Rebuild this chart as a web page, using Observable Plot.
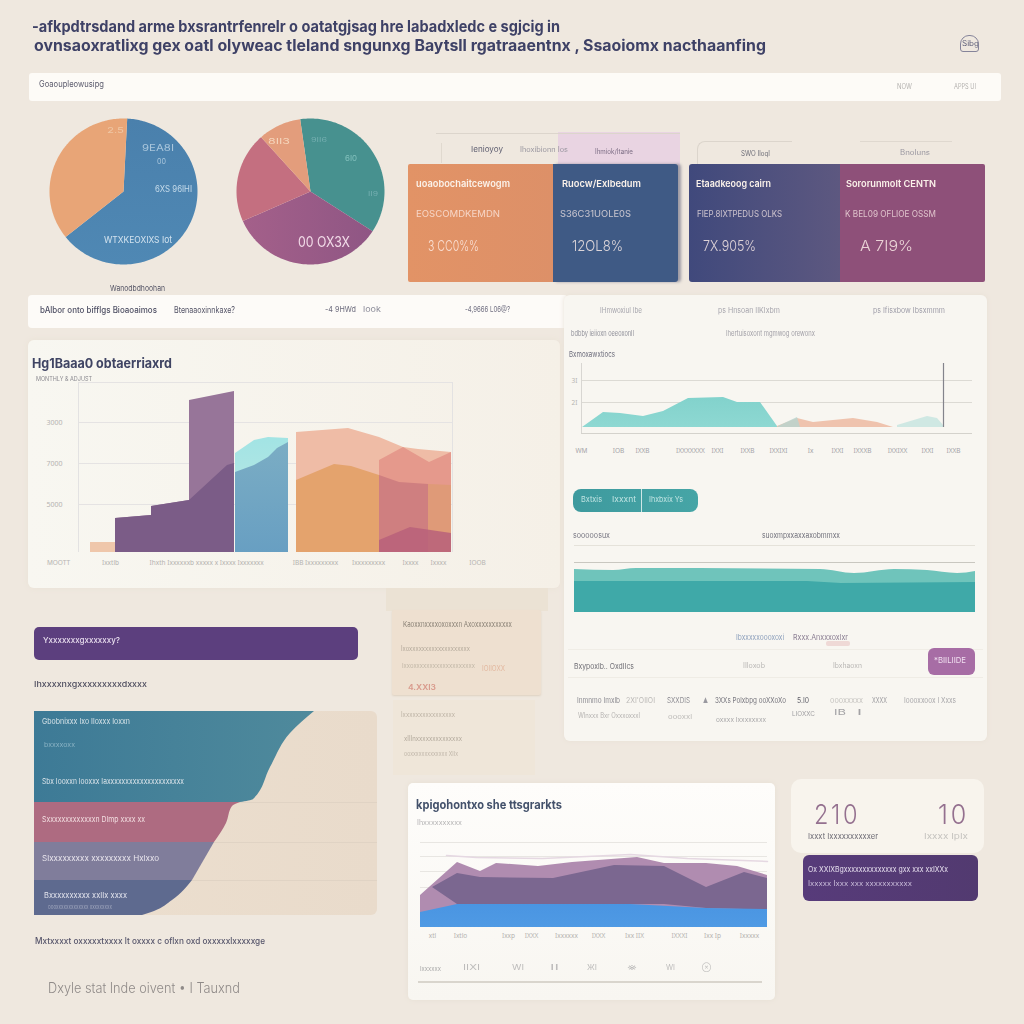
<!DOCTYPE html>
<html><head><meta charset="utf-8">
<script src="https://cdn.jsdelivr.net/npm/d3@7"></script>
<script src="https://cdn.jsdelivr.net/npm/@observablehq/plot@0.6"></script>
<style>
html,body{margin:0;padding:0;background:#efe8df;}
#page{position:relative;width:1024px;height:1024px;overflow:hidden;font-family:Inter,"Liberation Sans",sans-serif;}
.box{position:absolute;box-sizing:border-box;}
.t{position:absolute;white-space:nowrap;transform-origin:0 50%;line-height:1.2;filter:blur(.3px);}
.c{position:absolute;}
.c svg{display:block;overflow:visible;}
</style></head><body><div id="page"></div>
<script>
// ---------- data ----------
const pieA = {names:["Sales share","Other share"], values:[63.5,36.5]};
const pieB = {names:["Segment A","Segment B","Segment C","Segment D"], values:[36.4,34.2,20,9.4]};

const stepX=[37,73,73,111,111,156], stepY=[34,37,46,52,152,161];
const stepDarkX=[37,73,73,111,149,156], stepDarkY=[34,37,46,52,87,89];
const peachX=[12,37], peachY=[10,10];
const cyanX=[157,176,190,210], cyanY=[99,112,115,114];
const blueX=[157,176,190,199,210], blueY=[80,87,95,104,110];
const salmonX=[218,270,301,325,340,373], salmonY=[120,124,115,105,103,100];
const pinkX=[301,325,351,373], pinkY=[92,105,90,100];
const orangeX=[218,256,273,301], orangeY=[72,88,86,77];
const roseX=[301,321,350], roseY=[77,70,68];
const amberX=[350,373], amberY=[68,67];
const wineX=[301,332,373], wineY=[12,25,19];
const barGrid=[48,89,130,170], barGridLabels=["5000","7000","3000","MONTHLY & ADJUST"];
const barTicks=[-20,32,79,137,237,290,332,360,399];
const barTickLabels=["MOOTT","Ixxtlb","Ihxth","Ixxxxxxb xxxxx x Ixxxx Ixxxxxxx","IBB Ixxxxxxxxx","Ixxxxxxxxx","Ixxxx","Ixxxx","IOOB"];

const tealX=[1,22,39,62,82,107,142,156,179,196], tealY=[0,15,14,11,16,29,30,25,25,1];
const sandX=[196,216,232,272,296,312], sandY=[1,9,5,9,5,0];
const paleX=[197,216,219], paleY=[1,10,0];
const mintX=[316,346,356,362], mintY=[2,11,9,2];
const lineGrid=[25,47], lineGridLabels=["2I","3I"];
const lineTicks=[0,37,61,109,136,166,197,229,256,281,316,346,372];
const lineTickLabels=["WM","IOB","IXXB","IXXXXXXX","IXXI","IXXB","IXXIXI","Ix","IXXI","IXXXB","IXXIXX","IXXI","IXXB"];

const waveX=[0,39,62,246,280,320,353,383,401], waveY=[43,42,44,43,39,43,42,39,41];
const seaX=[0,233,267,401], seaY=[31,31,29,30];

const hillX=[0,37,60,76,118,152,217,244,286,317,347], hillY=[32,65,56,64,61,65,70,64,64,61,52];
const ridgeX=[12,37,60,133,194,244,286,324,347], ridgeY=[40,54,50,49,62,61,40,55,49], ridgeLow=[40,23,23,23,23,23,19,18,18];
const skyX=[0,37,210,286,347], skyY=[15,23,23,19,18];
const ceilX=[26,56,122,210,267,347], ceilY=[72,70,69,73,69,66];
const hillGrid=[40,56,71,85], hillTicks=[12,40,88,111,146,178,214,259,292,329];
const hillTickLabels=["xtl","Ixtlo","Ixxp","IXXX","Ixxxxxx","IXXX","Ixx IIX","IXXXI","Ixx Ip","Ixxxxx"];

const funnelTealY=[0,22,56,88,91], funnelTealX=[280,256,236,219,206];
const funnelRoseY=[91,95,112,131], funnelRoseX=[206,198,192,180];
const funnelSlateY=[131,169], funnelSlateX=[180,158];
const funnelDarkY=[169,189,200,204], funnelDarkX=[158,138,120,108];
const funnelSplits=[91,131,169];

const titleLines=["-afkpdtrsdand arme bxsrantrfenrelr o oatatgjsag hre labadxledc e sgjcig in","ovnsaoxratlixg gex oatl olyweac tleland sngunxg  Baytsll rgatraaentnx , Ssaoiomx nacthaanfing"];
const kpiNames=["uoaobochaitcewogm","Ruocw/Exlbedum","Etaadkeoog cairn","Sororunmolt CENTN"];
const kpiSubs=["EOSCOMDKEMDN","S36C31UOLE0S","FIEP.8IXTPEDUS OLKS","K BEL09 OFLIOE OSSM"];
const kpiValues=["3 CC0%%","12OL8%","7X.905%","A 7I9%"];

// ---------- helpers ----------
const page=document.getElementById("page");
function B(x,y,w,h,bg,extra=""){const d=document.createElement("div");d.className="box";
 d.style.cssText=`left:${x}px;top:${y}px;width:${w}px;height:${h}px;background:${bg};${extra}`;page.appendChild(d);return d;}
function T(x0,x1,yc,str,size,color,weight=400,extra=""){const d=document.createElement("div");d.className="t";d.textContent=str;
 d.style.cssText=`left:${x0}px;top:${yc-size*0.6}px;font-size:${size}px;color:${color};font-weight:${weight};${extra}`;page.appendChild(d);
 const w=d.getBoundingClientRect().width;if(w>0)d.style.transform=`scaleX(${(x1-x0)/w})`;return d;}
function grad(id,stops,horizontal=false){return ()=>{const g=d3.create("svg:defs");
 const l=g.append("linearGradient").attr("id",id).attr("x1",0).attr("y1",0).attr("x2",horizontal?1:0).attr("y2",horizontal?0:1);
 stops.forEach(([o,c])=>l.append("stop").attr("offset",o).attr("stop-color",c));return g.node();};}
function C(px,py,pw,ph,m,opts){const [mt,mr,mb,ml]=m;
 const svg=Plot.plot({width:pw+ml+mr,height:ph+mt+mb,marginTop:mt,marginRight:mr,marginBottom:mb,marginLeft:ml,
  style:"background:transparent;",...opts});
 const d=document.createElement("div");d.className="c";d.style.cssText=`left:${px-ml}px;top:${py-mt}px;`;d.appendChild(svg);page.appendChild(d);return svg;}
const A=(xs,ys,fill,o={})=>Plot.areaY(ys,{x:xs,y1:0,y2:ys,fill,...o});
function pieMarks(p,start,colors,defs){const total=d3.sum(p.values);let a=start;const pts=[];
 p.values.forEach((v,i)=>{const a1=a+v/total*2*Math.PI;pts.push({n:p.names[i],x:0,y:0});
  const steps=Math.ceil((a1-a)/0.02);for(let k=0;k<=steps;k++){const t=a+(a1-a)*k/steps;pts.push({n:p.names[i],x:Math.sin(t),y:Math.cos(t)});}a=a1;});
 return {x:{domain:[-1,1],axis:null},y:{domain:[-1,1],axis:null},color:{domain:p.names,range:colors},
  marks:[defs,Plot.line(pts,{x:"x",y:"y",z:"n",fill:"n",stroke:"none"})]};}

// ---------- page ----------
const ink="#3e4166", mute="#8b8a90", faint="#b5b3b0";
T(32,560,27,titleLines[0],15.5,ink,700);
T(34,766,46,titleLines[1],15.5,ink,700);
T(962,979,44,"Sibg",7,"#5e5f78",400);
B(960,35,19,17,"transparent","border:1px solid #85849a;border-radius:9px 9px 3px 3px;");

B(29,73,972,28,"#fdfbf7","border-radius:3px;");
T(39,104,84,"Goaoupleowusipg",8.5,"#5a5a6c");
T(897,912,87,"NOW",7,faint); T(954,976,87,"APPS UI",7,faint);

// pies
C(49,118,148,146,[0,0,0,0],{...pieMarks(pieA,0.05,["url(#gBlue)","#e8a577"],grad("gBlue",[[0,"#4a80ac"],[1,"#4f88b4"]]))});
C(236,118,148,146,[0,0,0,0],{...pieMarks(pieB,-0.14,["#47918f","url(#gMauve)","#c46f80","#e39d7c"],grad("gMauve",[[0,"#a4608a"],[1,"#8f5684"]],true))});
T(107,124,131,"2.5",8,"#efc7a4");
T(142,174,148,"9EA8I",9,"#a9c6dc"); T(157,166,162,"00",8,"#a9c6dc");
T(155,192,189,"6XS 96IHI",9,"#c7dceb");
T(104,172,240,"WTXKEOXIXS Iot",9.5,"#d3e3ef");
T(268,290,142,"8II3",8,"#f5d6bc"); T(311,327,140,"9II6",6,"#74aeb0");
T(345,357,159,"6I0",8,"#83c1bd"); T(368,378,194,"II9",6,"#74aeb0");
T(298,350,242,"00 OX3X",15,"#f2dbe8");
T(110,165,289,"Wanodbdhoohan",8,"#555566");

// row bar
B(28,295,540,33,"#fdfbf8","border-radius:4px;");
T(40,157,310,"bAlbor onto bifflgs Bioaoaimos",8.5,"#4d4e63",500);
T(174,235,310,"Btenaaoxinnkaxe?",8.5,"#555568");
T(325,356,310,"-4 9HWd",8,"#6b6a7c"); T(363,381,310,"look",8,"#8d8d9a");
T(465,510,310,"-4,9666 L06@?",8,"#6f6e80");

// KPI cards
B(558,132,122,34,"#e9d4e2","");
B(436,133,244,1,"#dcd5cc"); B(441,143,1,20,"#e0d9cf");
B(697,141,95,26,"transparent","border:1px solid #dcd5cc;border-bottom:none;border-right:none;border-radius:8px 0 0 0;");
B(860,141,92,1,"#dfd8cf"); 
T(471,503,150,"Ienioyoy",8,"#5e5e70"); T(520,568,150,"Ihoxibionn Ios",7,"#9a97a0");
T(595,633,152,"Ihmiok/Itanie",7,"#7e6f86"); T(741,770,154,"SWO IloqI",7,"#6e6e78"); T(900,930,153,"Bnoluns",7,"#9a97a0");
B(408,164,145,118,"linear-gradient(90deg,#e29366,#dd9068)","border-radius:2px 0 0 2px;");
B(553,164,125,118,"#3f5a85","border-radius:0 3px 3px 0;box-shadow:3px 0 3px #9d9aa4;");
B(689,164,151,118,"linear-gradient(90deg,#40497c,#5d5880)","border-radius:3px 0 0 3px;");
B(840,164,145,118,"#8e5079","border-radius:0 2px 2px 0;");
const kx=[[416,510,416,500,428,479],[562,641,560,631,572,623],[696,771,697,782,703,756],[846,936,845,936,860,913]];
kx.forEach((k,i)=>{T(k[0],k[1],184,kpiNames[i],9.5,"#fbf2ea",600);T(k[2],k[3],214,kpiSubs[i],9.5,"rgba(255,240,235,.72)");T(k[4],k[5],246,kpiValues[i],15,"rgba(255,240,235,.82)",300);});

// main bar chart panel
B(28,340,532,248,"linear-gradient(90deg,#f8f7f1,#f5f0e7)","border-radius:6px;box-shadow:0 0 6px #e9e2d6;");
T(32,172,364,"Hg1Baaa0 obtaerriaxrd",13,"#3f4463",700);
T(36,92,380,barGridLabels[3],6.5,mute);
C(78,382,374,170,[6,40,30,40],{
 x:{domain:[0,374],axis:null},y:{domain:[0,170],axis:null},
 marks:[
  grad("gCyan",[[0,"#a2e4e4"],[1,"#c6e8e4"]]),grad("gBlueBar",[[0,"#7badc4"],[1,"#689fc2"]]),
  Plot.ruleY(barGrid,{stroke:"#e5e3e3"}),
  Plot.ruleX([0,374],{stroke:"#e3e2e2"}),
  Plot.axisY({ticks:barGrid.slice(0,3),tickSize:0,tickPadding:16,fontSize:7,color:faint,label:null,tickFormat:(d,i)=>barGridLabels[i]}),
  Plot.axisX({ticks:barTicks,tickSize:0,tickPadding:8,fontSize:6.5,color:faint,label:null,tickFormat:(d,i)=>barTickLabels[i]}),
  A(peachX,peachY,"#efc7ab"),
  A(stepX,stepY,"#977599"),
  A(stepDarkX,stepDarkY,"#7b5c87"),
  A(cyanX,cyanY,"url(#gCyan)"),
  A(blueX,blueY,"url(#gBlueBar)"),
  A(salmonX,salmonY,"#efbca6"),
  A(pinkX,pinkY,"#e5998c"),
  A(orangeX,orangeY,"#e4a36d"),
  A(roseX,roseY,"#cf7f80"),
  A(amberX,amberY,"#df9a78"),
  A(wineX,wineY,"#b8607a",{fillOpacity:.85})
 ]});

// right panel
B(564,295,423,446,"#f8f6f1","border-radius:6px;box-shadow:0 0 5px #e8e0d6;");
T(600,642,310,"IHmwoxiuI Ibe",7.5,"#a6a5ad");
T(718,780,310,"ps Hnsoan IIKIxbm",7.5,"#a6a5ad");
T(873,945,310,"ps Ifisxbow Ibsxmmm",7.5,"#9d9ca8");
T(571,634,333,"bdbby ieiioxn oeeoxonIl",7.5,"#8f8f99");
T(726,815,333,"Ihertuisoxont mgmwog orewonx",7.5,"#a09ea6");
T(569,615,355,"Bxmoxawxtiocs",8,"#6d6d7c");
C(581,363,391,70,[0,0,24,14],{
 x:{domain:[0,391],axis:null},y:{domain:[-6,64],axis:null},
 marks:[
  grad("gTeal",[[0,"#82d2cc"],[1,"#8ed8d2"]]),
  Plot.ruleY(lineGrid,{stroke:"#dcdad4"}),
  Plot.ruleY([-6],{stroke:"#d4d2cc"}),
  Plot.ruleX([0],{stroke:"#d8d6d2"}),
  Plot.axisY({ticks:lineGrid,tickSize:0,tickPadding:4,fontSize:6.5,color:faint,label:null,tickFormat:(d,i)=>lineGridLabels[i]}),
  Plot.axisX({ticks:lineTicks,tickSize:0,tickPadding:15,fontSize:6.5,color:"#a5a4a8",label:null,tickFormat:(d,i)=>lineTickLabels[i]}),
  A(tealX,tealY,"url(#gTeal)"),
  A(sandX,sandY,"#efc3ae"),
  A(paleX,paleY,"#b7d4d0",{fillOpacity:.8}),
  A(mintX,mintY,"#cfe8e3"),
  Plot.ruleX([362],{y1:0,y2:64,stroke:"#84848c",strokeWidth:1.2})
 ]});
B(573,489,125,23,"linear-gradient(90deg,#3e9a9e,#46a5a6)","border-radius:8px;");
B(641,489,1,23,"#cfe7e6");
T(581,602,500,"Bxtxis",8,"#bfe3e2"); T(612,636,500,"Ixxxnt",8,"#bfe3e2"); T(649,683,500,"Ihxbxix Ys",8,"#bfe3e2");
T(573,610,535,"sooooosux",7.5,"#777682");
T(762,840,535,"suoxmpxxaxxaxobmmxx",7.5,"#6f6f7a");
C(574,545,401,67,[0,0,0,0],{
 x:{domain:[0,401],axis:null},y:{domain:[0,67],axis:null},
 marks:[
  Plot.ruleY([67],{stroke:"#e5e2da"}),
  Plot.ruleY([50],{stroke:"#c9c7c0"}),
  A(waveX,waveY,"#6fc4bb",{curve:"monotone-x"}),
  A(seaX,seaY,"#3fa9a8")
 ]});
T(736,784,637,"Ibxxxxxoooxoxi",7.5,"#8ea1bd");
T(793,848,637,"Rxxx.Anxxxoxlxr",7.5,"#8a7d92");
B(826,641,24,5,"#efd9d6","border-radius:2px;");
B(568,649,415,1,"#f0ede6");
T(574,634,666,"Bxypoxlb.. OxdIIcs",7.5,"#6e6d74");
T(743,765,666,"IIloxob",7,"#b9b7b5"); T(833,862,666,"Ibxhaoxn",7,"#b9b7b5");
B(928,648,47,27,"#a76da5","border-radius:6px;");
T(934,966,661,"*BIILIIDE",8,"#f0dff0");
B(568,677,415,1,"#efece5");
const rowA=[[577,620,"Inmnmo Imxlb","#8a8990"],[626,655,"2XI'OIIOI","#bbb9b7"],[667,690,"SXXDIS","#8f8e94"],[703,708,"▲","#9a99a0"],[715,786,"3XXs Polxbpg ooXXoXo","#77767e"],[797,809,"5.I0","#5f5e68"],[830,863,"oooxxxxx","#c6c4c0"],[872,887,"XXXX","#9d9ca0"],[904,956,"Ioooxxoox I Xxxs","#a9a8ab"]];
rowA.forEach(r=>T(r[0],r[1],700,r[2],7.5,r[3]));
T(578,640,716,"Wlnxxx Bxr Oxxxoxxxl",7,"#b5b3b1"); T(668,692,718,"oooxxl",6.5,"#bdbbb8");
T(716,766,721,"oxxxx Ixxxxxxxx",6.5,"#a9a8aa"); T(792,815,715,"LIOXXC",6.5,"#a09fa2");
T(834,846,713,"IB",8,"#a2a1a4"); T(857,862,713,"I",8,"#a2a1a4");

// purple banner + text
B(34,627,324,33,"#5c3f7e","border-radius:5px;");
T(43,120,641,"Yxxxxxxxgxxxxxxy?",8,"#e8deee",500);
T(34,147,685,"Ihxxxxnxgxxxxxxxxxdxxxx",8,"#4d4c5e",500);

// centre stacked cards
B(386,588,162,23,"#ebe2d4"); B(392,610,149,85,"#eee0d0","border-radius:2px;box-shadow:0 1px 2px #ddd1c0;");
B(393,700,142,75,"#efe6d9");
T(403,512,624,"Kaoxxnxxxxoxoxxxn Axoxxxxxxxxxxx",7.5,"#8a8276");
T(401,470,649,"Ixoxxxxxxxxxxxxxxxxxxx",7,"#b4aa9b");
T(402,475,667,"Ixxoxxxxxxxxxxxxxxxxxxx",6.5,"#c1b7a7");
T(482,505,669,"IOIIOXX",8,"#e3b9a0");
T(408,436,688,"4.XXI3",8,"#d99a8c",600);
T(401,455,715,"Ixxxxxxxxxxxxxxxx",7,"#bdb3a5");
T(404,462,739,"xIIInxxxxxxxxxxxxxx",7,"#b3aa9d");
T(404,458,755,"ooxxxxxxxxxxxxx XIIx",6.5,"#c0b7aa");

// funnel
B(34,711,343,204,"linear-gradient(90deg,#ecdfcf,#e9dbcb)","border-radius:6px;");
C(34,711,343,204,[0,0,0,0],{
 x:{domain:[0,343],axis:null},y:{domain:[204,0],axis:null},
 marks:[
  grad("gF1",[[0,"#3d7a96"],[1,"#4f8a9c"]],true),
  Plot.ruleY(funnelSplits,{stroke:"#e0d3c4"}),
  Plot.areaX(funnelTealY,{y:funnelTealY,x1:0,x2:funnelTealX,fill:"url(#gF1)",curve:"monotone-y"}),
  Plot.areaX(funnelRoseY,{y:funnelRoseY,x1:0,x2:funnelRoseX,fill:"#ae6b81",curve:"monotone-y"}),
  Plot.areaX(funnelSlateY,{y:funnelSlateY,x1:0,x2:funnelSlateX,fill:"#807d9b"}),
  Plot.areaX(funnelDarkY,{y:funnelDarkY,x1:0,x2:funnelDarkX,fill:"#5e6a8f",curve:"monotone-y"})
 ]});
T(42,130,721,"Gbobnixxx Ixo Iloxxx Ioxxn",7.5,"#d6e3e8");
T(44,75,746,"bxxxxoxx",6.5,"#8ab3c4");
T(42,184,781,"Sbx Iooxxn Iooxxx Iaxxxxxxxxxxxxxxxxxxxxx",7.5,"#dbe4ea");
T(42,145,820,"Sxxxxxxxxxxxxxn Dlmp xxxx xx",8,"#f2dde0");
T(42,159,858,"Slxxxxxxxxx xxxxxxxxx Hxlxxo",7.5,"#e9e6ee");
T(44,127,895,"Bxxxxxxxxxx xxIIx xxxx",7.5,"#e4e5ee");
T(48,112,907,"oooxxxxxxxxxxxxx xxxxxxxxx",6,"#a0a7bd");
T(35,265,941,"Mxtxxxxt oxxxxxtxxxx lt oxxxx c oflxn oxd oxxxxxlxxxxxge",8.5,"#55546a",500);
T(48,240,988,"Dxyle stat Inde oivent •  I Tauxnd",14,"#8f8a88",300);

// bottom area chart
B(408,783,367,217,"linear-gradient(180deg,#fefdfb,#f8f6f1)","border-radius:5px;box-shadow:0 0 5px #e6dfd4;");
T(416,562,804,"kpigohontxo she ttsgrarkts",12.5,"#43516b",700);
T(417,462,823,"Ihxxxxxxxxxx",7,"#b4b3b4");
C(420,835,347,92,[0,6,16,0],{
 x:{domain:[0,347],axis:null},y:{domain:[0,92],axis:null},
 marks:[
  grad("gSky",[[0,"#4a95e2"],[1,"#4f9ae4"]]),
  Plot.ruleY(hillGrid,{stroke:"#e8e6e2"}),
  Plot.line(ceilX,{x:ceilX,y:ceilY,stroke:"#e5d8e2"}),
  A(hillX,hillY,"#b08cb0"),
  Plot.areaY(ridgeY,{x:ridgeX,y1:ridgeLow,y2:ridgeY,fill:"#7b6790"}),
  A(skyX,skyY,"url(#gSky)"),
  Plot.axisX({ticks:hillTicks,tickSize:0,tickPadding:6,fontSize:6.5,color:faint,label:null,tickFormat:(d,i)=>hillTickLabels[i]})
 ]});
T(420,441,969,"Ixxxxxx",6,"#a9a9a9");
[[463,480,"IIXI"],[512,524,"WI"],[550,559,"II"],[587,597,"ЖI"],[627,637,"※"],[666,675,"WI"],[702,711,"⊗"]].forEach(r=>T(r[0],r[1],968,r[2],7,"#bdbcbb"));
B(418,981,344,2,"#d9d5cd");

// right KPI
B(791,779,193,74,"#f8f4ed","border-radius:10px;");
T(814,860,815,"210",27,"#94708f",300,"letter-spacing:3px;");
T(938,969,815,"10",27,"#94708f",300,"letter-spacing:3px;");
T(808,878,836,"Ixxxt Ixxxxxxxxxxer",7.5,"#6c6a74");
T(924,968,836,"Ixxxx IpIx",7.5,"#c5c3bf");
B(803,855,175,46,"linear-gradient(90deg,#573b7a,#523a70)","border-radius:6px;");
T(808,948,869,"Ox XXIXBgxxxxxxxxxxxxxx gxx xxx xxIXXx",7.5,"#e6dfee");
T(808,912,884,"Ixxxxx Ixxx xxx xxxxxxxxxxx",7,"#c9bcd9");
</script></body></html>
